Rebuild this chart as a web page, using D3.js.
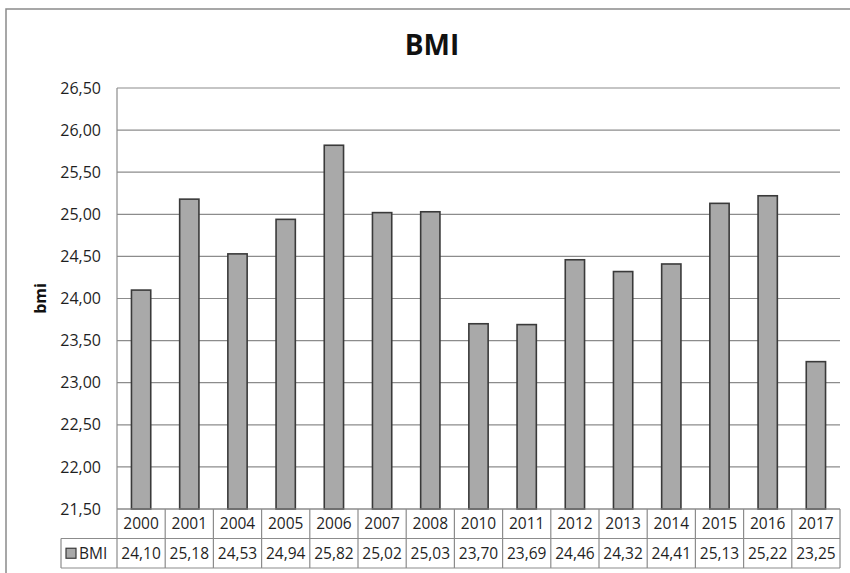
<!DOCTYPE html>
<html>
<head>
<meta charset="utf-8">
<script src="https://cdn.jsdelivr.net/npm/d3@7"></script>
<style>
  html, body { margin: 0; padding: 0; background: #fff; }
  svg { display: block; font-family: "Open Sans", sans-serif; }
</style>
</head>
<body>
<svg id="chart" width="850" height="573"></svg>
<script>
const categories = ["2000","2001","2004","2005","2006","2007","2008","2010","2011","2012","2013","2014","2015","2016","2017"];
const bmiValues = [24.10,25.18,24.53,24.94,25.82,25.02,25.03,23.70,23.69,24.46,24.32,24.41,25.13,25.22,23.25];
const yTicks = [21.5,22,22.5,23,23.5,24,24.5,25,25.5,26,26.5];
const seriesName = "BMI";
const chartTitle = "BMI";
const yTitle = "bmi";

(function () {
const svg = d3.select("#chart");
const pLeft = 117, pRight = 840, pTop = 88, pBottom = 509;
const rowH = 29.5;
const txt = "#1f1f1f";
const fmt = v => d3.format(".2f")(v).replace(".", ",");

// outer border (extends beyond the visible area on right and bottom)
svg.append("rect").attr("x", 6).attr("y", 9).attr("width", 900).attr("height", 600)
  .attr("fill", "none").attr("stroke", "#8a8a8a").attr("stroke-width", 1.5);

const x = d3.scaleBand().domain(categories).range([pLeft, pRight]).padding(0);
const y = d3.scaleLinear().domain([21.5, 26.5]).range([pBottom, pTop]);

// gridlines
svg.append("g").selectAll("line").data(yTicks).join("line")
  .attr("x1", pLeft).attr("x2", pRight)
  .attr("y1", d => y(d)).attr("y2", d => y(d))
  .attr("stroke", "#8c8c8c").attr("stroke-width", 1.2);

// y axis line
svg.append("line").attr("x1", pLeft).attr("x2", pLeft).attr("y1", pTop).attr("y2", pBottom)
  .attr("stroke", "#8c8c8c").attr("stroke-width", 1.2);

// y tick labels
svg.append("g").selectAll("text").data(yTicks).join("text")
  .attr("x", 101).attr("y", d => y(d)).attr("dy", "0.35em")
  .attr("text-anchor", "end").attr("font-size", 16).attr("fill", txt)
  .text(d => fmt(d));

// bars
const bw = x.bandwidth() * 0.4;
svg.append("g").selectAll("rect").data(bmiValues).join("rect")
  .attr("x", (d, i) => x(categories[i]) + (x.bandwidth() - bw) / 2)
  .attr("y", d => y(d))
  .attr("width", bw)
  .attr("height", d => y(21.5) - y(d))
  .attr("fill", "#a9a9a9").attr("stroke", "#3a3a3a").attr("stroke-width", 1.6);

// data table
const tbl = svg.append("g");
const lineColor = "#8c8c8c";
const r1 = pBottom, r2 = pBottom + rowH, r3 = pBottom + 2 * rowH;
const legLeft = 61;
[[pLeft, pRight, r1], [legLeft, pRight, r2], [legLeft, pRight, r3]].forEach(([a, b, yy]) => {
  tbl.append("line").attr("x1", a).attr("x2", b).attr("y1", yy).attr("y2", yy)
    .attr("stroke", lineColor).attr("stroke-width", 1.2);
});
const bounds = categories.map(c => x(c)).concat([pRight]);
tbl.selectAll("line.v").data(bounds).join("line").attr("class", "v")
  .attr("x1", d => d).attr("x2", d => d).attr("y1", r1).attr("y2", r3)
  .attr("stroke", lineColor).attr("stroke-width", 1.2);
tbl.append("line").attr("x1", legLeft).attr("x2", legLeft).attr("y1", r2).attr("y2", r3)
  .attr("stroke", lineColor).attr("stroke-width", 1.2);

tbl.selectAll("text.cat").data(categories).join("text").attr("class", "cat")
  .attr("x", d => x(d) + x.bandwidth() / 2).attr("y", (r1 + r2) / 2).attr("dy", "0.36em")
  .attr("text-anchor", "middle").attr("font-size", 15.5).attr("fill", txt)
  .text(d => d);
tbl.selectAll("text.val").data(bmiValues).join("text").attr("class", "val")
  .attr("x", (d, i) => x(categories[i]) + x.bandwidth() / 2).attr("y", (r2 + r3) / 2).attr("dy", "0.36em")
  .attr("text-anchor", "middle").attr("font-size", 15.5).attr("fill", txt)
  .text(d => fmt(d));
tbl.append("rect").attr("x", 66).attr("y", (r2 + r3) / 2 - 5).attr("width", 10).attr("height", 10)
  .attr("fill", "#a9a9a9").attr("stroke", "#3a3a3a").attr("stroke-width", 1.2);
tbl.append("text").attr("x", 79).attr("y", (r2 + r3) / 2).attr("dy", "0.36em")
  .attr("font-size", 15.5).attr("fill", txt).text(seriesName);

// title
svg.append("text").attr("x", 432).attr("y", 55).attr("text-anchor", "middle")
  .attr("font-size", 28).attr("font-weight", "bold").attr("fill", "#111").text(chartTitle);

// y axis title
svg.append("text").attr("transform", `translate(46, ${(pTop + pBottom) / 2}) rotate(-90)`)
  .attr("text-anchor", "middle").attr("font-size", 16).attr("font-weight", "bold")
  .attr("fill", "#111").text(yTitle);
})();
</script>
</body>
</html>
